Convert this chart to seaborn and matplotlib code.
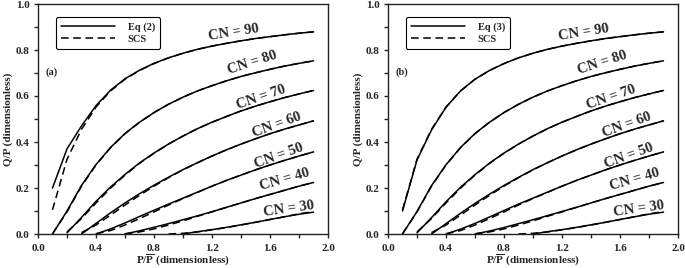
import numpy as np
import pandas as pd
import matplotlib
matplotlib.use('Agg')
import matplotlib.pyplot as plt
from matplotlib.lines import Line2D
from matplotlib.ticker import MultipleLocator
import seaborn as sns

nan = np.nan

# P / P-bar grid
p_ratio = [0.1, 0.2, 0.3, 0.4, 0.5, 0.6, 0.7, 0.8, 0.9, 1.0,
           1.1, 1.2, 1.3, 1.4, 1.5, 1.6, 1.7, 1.8, 1.9]

curve_numbers = [90, 80, 70, 60, 50, 40, 30]

# SCS curves (dashed, same in both panels)
scs_90 = [0.105, 0.325, 0.455, 0.552, 0.622, 0.673, 0.711, 0.741, 0.766, 0.786, 0.803, 0.817, 0.829, 0.840, 0.850, 0.858, 0.866, 0.873, 0.879]
scs_80 = [0.001, 0.096, 0.208, 0.300, 0.375, 0.436, 0.486, 0.528, 0.564, 0.595, 0.622, 0.645, 0.666, 0.685, 0.701, 0.716, 0.730, 0.742, 0.753]
scs_70 = [nan, 0.009, 0.067, 0.135, 0.199, 0.256, 0.307, 0.351, 0.391, 0.426, 0.458, 0.486, 0.511, 0.535, 0.556, 0.575, 0.593, 0.609, 0.624]
scs_60 = [nan, nan, 0.006, 0.039, 0.082, 0.126, 0.168, 0.208, 0.245, 0.279, 0.310, 0.339, 0.366, 0.391, 0.414, 0.436, 0.456, 0.474, 0.492]
scs_50 = [nan, nan, nan, 0.001, 0.015, 0.039, 0.067, 0.096, 0.126, 0.154, 0.181, 0.208, 0.233, 0.256, 0.279, 0.300, 0.320, 0.339, 0.357]
scs_40 = [nan, nan, nan, nan, nan, 0.001, 0.009, 0.022, 0.039, 0.057, 0.077, 0.096, 0.116, 0.135, 0.154, 0.172, 0.190, 0.208, 0.224]
scs_30 = [nan, nan, nan, nan, nan, nan, nan, nan, 0.000, 0.003, 0.009, 0.018, 0.028, 0.039, 0.051, 0.063, 0.075, 0.088, 0.097]

# Eq (2) curves, panel (a)
eq2_90 = [0.20, 0.37, 0.47, 0.558, 0.625, 0.675, 0.712, 0.742, 0.766, 0.786, 0.803, 0.817, 0.829, 0.840, 0.850, 0.858, 0.866, 0.873, 0.879]
eq2_80 = [0.0, 0.100, 0.211, 0.302, 0.376, 0.437, 0.486, 0.528, 0.564, 0.595, 0.622, 0.645, 0.666, 0.685, 0.701, 0.716, 0.730, 0.742, 0.753]
eq2_70 = [nan, 0.005, 0.072, 0.142, 0.204, 0.259, 0.309, 0.352, 0.391, 0.426, 0.458, 0.486, 0.511, 0.535, 0.556, 0.575, 0.593, 0.609, 0.624]
eq2_60 = [nan, nan, 0.0, 0.046, 0.092, 0.135, 0.175, 0.212, 0.247, 0.280, 0.310, 0.339, 0.366, 0.391, 0.414, 0.436, 0.456, 0.474, 0.492]
eq2_50 = [nan, nan, nan, 0.0, 0.022, 0.048, 0.076, 0.103, 0.130, 0.156, 0.182, 0.208, 0.233, 0.256, 0.279, 0.300, 0.320, 0.339, 0.357]
eq2_40 = [nan, nan, nan, nan, nan, 0.0, 0.014, 0.029, 0.045, 0.062, 0.079, 0.097, 0.116, 0.135, 0.154, 0.172, 0.190, 0.208, 0.224]
eq2_30 = [nan, nan, nan, nan, nan, nan, nan, nan, nan, 0.0, 0.010, 0.019, 0.029, 0.040, 0.051, 0.063, 0.075, 0.086, 0.095]

# Eq (3) curves, panel (b)
eq3_90 = [0.10, 0.322, 0.452, 0.551, 0.622, 0.673, 0.711, 0.741, 0.766, 0.786, 0.803, 0.817, 0.829, 0.840, 0.850, 0.858, 0.866, 0.873, 0.879]
eq3_80 = [0.0, 0.098, 0.210, 0.301, 0.376, 0.437, 0.486, 0.528, 0.564, 0.595, 0.622, 0.645, 0.666, 0.685, 0.701, 0.716, 0.730, 0.742, 0.753]
eq3_70 = [nan, 0.005, 0.071, 0.140, 0.203, 0.258, 0.308, 0.352, 0.391, 0.426, 0.458, 0.486, 0.511, 0.535, 0.556, 0.575, 0.593, 0.609, 0.624]
eq3_60 = [nan, nan, 0.0, 0.045, 0.090, 0.133, 0.173, 0.211, 0.246, 0.280, 0.310, 0.339, 0.366, 0.391, 0.414, 0.436, 0.456, 0.474, 0.492]
eq3_50 = [nan, nan, nan, 0.0, 0.021, 0.046, 0.074, 0.102, 0.130, 0.156, 0.182, 0.208, 0.233, 0.256, 0.279, 0.300, 0.320, 0.339, 0.357]
eq3_40 = [nan, nan, nan, nan, nan, 0.0, 0.013, 0.028, 0.045, 0.062, 0.080, 0.098, 0.116, 0.135, 0.154, 0.172, 0.190, 0.208, 0.224]
eq3_30 = [nan, nan, nan, nan, nan, nan, nan, nan, nan, 0.0, 0.010, 0.019, 0.029, 0.040, 0.051, 0.063, 0.075, 0.086, 0.095]

scs_curves = [scs_90, scs_80, scs_70, scs_60, scs_50, scs_40, scs_30]
eq2_curves = [eq2_90, eq2_80, eq2_70, eq2_60, eq2_50, eq2_40, eq2_30]
eq3_curves = [eq3_90, eq3_80, eq3_70, eq3_60, eq3_50, eq3_40, eq3_30]

# CN label positions (data coords) and rotation
label_x = [1.35, 1.48, 1.54, 1.65, 1.66, 1.70, 1.73]
label_y = [0.875, 0.745, 0.595, 0.472, 0.340, 0.238, 0.110]
label_rot = [9, 18, 19, 20, 20, 16, 8]


def long_frame(eq_curves, eq_name):
    rows = []
    for cn, eq, scs in zip(curve_numbers, eq_curves, scs_curves):
        for p, q in zip(p_ratio, eq):
            if not np.isnan(q):
                rows.append((p, q, cn, eq_name))
        for p, q in zip(p_ratio, scs):
            if not np.isnan(q):
                rows.append((p, q, cn, 'SCS'))
    return pd.DataFrame(rows, columns=['p', 'q', 'CN', 'method'])


sns.set_style('ticks')
plt.rcParams['font.family'] = ['Liberation Serif', 'DejaVu Serif']
plt.rcParams['font.weight'] = 'bold'
plt.rcParams['mathtext.fontset'] = 'custom'
plt.rcParams['mathtext.rm'] = 'Liberation Serif:bold'
plt.rcParams['mathtext.bf'] = 'Liberation Serif:bold'

fig = plt.figure(figsize=(6.85, 2.68), dpi=100)
ax_a = fig.add_axes([38 / 685, 34 / 268, 290 / 685, 230 / 268])
ax_b = fig.add_axes([388 / 685, 34 / 268, 290 / 685, 230 / 268])

panels = [(ax_a, eq2_curves, 'Eq (2)', '(a)'), (ax_b, eq3_curves, 'Eq (3)', '(b)')]

for ax, eq_curves, eq_name, tag in panels:
    df = long_frame(eq_curves, eq_name)
    sns.lineplot(data=df, x='p', y='q', units='CN', style='method',
                 style_order=[eq_name, 'SCS'],
                 dashes={eq_name: '', 'SCS': (5, 3)},
                 estimator=None, color='black', lw=1.1, legend=False, ax=ax)

    ax.xaxis.set_minor_locator(MultipleLocator(0.2))
    ax.yaxis.set_minor_locator(MultipleLocator(0.1))
    ax.set_xticks(np.arange(0, 2.01, 0.4))
    ax.set_yticks(np.arange(0, 1.01, 0.2))
    ax.set_xticklabels([f'{v:.1f}' for v in ax.get_xticks()], fontweight='bold', fontsize=8)
    ax.set_yticklabels([f'{v:.1f}' for v in ax.get_yticks()], fontweight='bold', fontsize=8)
    ax.tick_params(which='both', direction='out', length=3, width=1.0,
                   top=False, right=False)
    ax.tick_params(axis='x', which='major', pad=4)
    ax.tick_params(axis='y', which='major', pad=3)
    ax.set_xlim(0, 2.0)
    ax.set_ylim(0, 1.0)
    for sp in ax.spines.values():
        sp.set_visible(True)
        sp.set_linewidth(1.0)
        sp.set_color('#222222')

    ax.set_xlabel(r'P/$\overline{\mathrm{P}}$ (dimensionless)', fontsize=8,
                  fontweight='bold', labelpad=0)
    ax.set_ylabel('Q/P (dimensionless)', fontsize=8, fontweight='bold', labelpad=2)

    for cn, lx, ly, rot in zip(curve_numbers, label_x, label_y, label_rot):
        ax.text(lx, ly, f'CN = {cn}', fontsize=10.5, fontweight='bold',
                rotation=rot, ha='center', va='center', rotation_mode='anchor')

    ax.text(0.05, 0.705, tag, fontsize=7.5, fontweight='bold', va='center')

    handles = [Line2D([], [], color='black', lw=1.1),
               Line2D([], [], color='black', lw=1.1, dashes=(5, 3))]
    leg = ax.legend(handles, [eq_name, 'SCS'], loc='upper left',
                    bbox_to_anchor=(0.045, 0.965), fontsize=7.5, handlelength=5.2,
                    handletextpad=1.2, borderpad=0.45, labelspacing=0.3,
                    frameon=True, fancybox=True, framealpha=1)
    leg.get_frame().set_edgecolor('black')
    leg.get_frame().set_linewidth(0.8)
    for t in leg.get_texts():
        t.set_fontweight('bold')

fig.savefig('out.png', dpi=100)
